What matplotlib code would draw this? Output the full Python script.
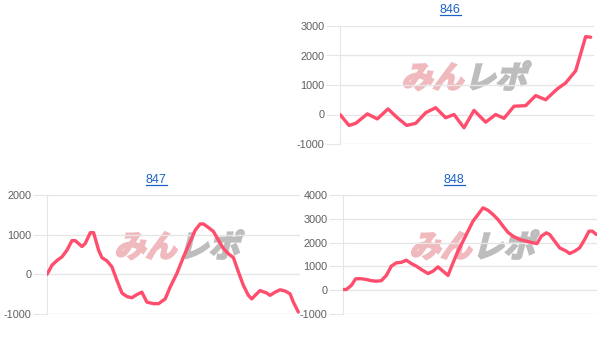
import matplotlib
matplotlib.use("Agg")
import matplotlib.pyplot as plt
from matplotlib.lines import Line2D
from matplotlib.patches import PathPatch
from matplotlib.textpath import TextPath
from matplotlib.font_manager import FontProperties
from matplotlib.transforms import Affine2D, IdentityTransform

plt.rcParams['font.family'] = ['Liberation Sans', 'DejaVu Sans']

# data (x = progress along the day, y = medals)
x846 = [118, 145, 165, 200, 230, 262, 290, 318, 345, 375, 405, 435, 460, 490,
        520, 555, 585, 610, 640, 675, 705, 735, 770, 795, 825, 855, 870]
y846 = [0, -370, -300, 20, -150, 190, -110, -370, -300, 60, 230, -110, 0, -450,
        140, -260, 0, -130, 280, 300, 640, 500, 870, 1070, 1480, 2640, 2620]

x847 = [140, 155, 170, 185, 200, 215, 225, 245, 255, 270, 280, 295, 305, 320,
        335, 350, 365, 380, 395, 410, 425, 440, 460, 475, 495, 510, 530, 550,
        570, 585, 600, 610, 625, 640, 655, 670, 685, 700, 715, 730, 745, 755,
        770, 780, 800, 810, 825, 840, 855, 870, 880, 895]
y847 = [0, 230, 350, 440, 610, 850, 850, 700, 780, 1050, 1050, 610, 420, 340,
        190, -150, -470, -560, -590, -510, -450, -700, -740, -740, -620, -320,
        20, 440, 820, 1110, 1270, 1270, 1180, 1080, 860, 650, 520, 420, 60,
        -280, -530, -620, -490, -410, -470, -530, -450, -390, -420, -490, -700, -950]

x848 = [130, 140, 155, 168, 185, 200, 215, 230, 245, 260, 275, 290, 305, 320,
        335, 350, 365, 385, 400, 415, 430, 445, 460, 475, 490, 505, 520, 535,
        550, 565, 580, 595, 610, 625, 640, 660, 680, 700, 712, 725, 740, 750,
        765, 780, 800, 810, 825, 840, 855, 868, 878, 890]
y848 = [30, 30, 200, 480, 480, 450, 400, 380, 400, 620, 1010, 1150, 1170, 1260,
        1120, 1010, 870, 700, 800, 980, 800, 620, 1150, 1640, 2060, 2480, 2900,
        3180, 3460, 3360, 3180, 2970, 2690, 2430, 2270, 2130, 2060, 1990, 1960,
        2270, 2410, 2340, 2060, 1780, 1640, 1540, 1640, 1780, 2130, 2480, 2480, 2340]

titles = ['846', '847', '848']
yticks = [[-1000, 0, 1000, 2000, 3000],
          [-1000, 0, 1000, 2000],
          [-1000, 0, 1000, 2000, 3000, 4000]]
xlims = [(118, 880), (140, 900), (130, 892)]

W, H = 604, 344
fig = plt.figure(figsize=(W / 100, H / 100), dpi=100)
fig.patch.set_facecolor('white')

# axes boxes in pixels: left, right, top, bottom ; title centre x, title y ; watermark centre
boxes = [(340, 594, 26, 144, 450, 10, 460, 77),
         (47, 300, 195, 314, 156, 180, 173, 246),
         (343, 597, 195, 314, 454, 180, 468, 246)]
series = [(x846, y846), (x847, y847), (x848, y848)]

grid_c = '#e6e6e6'
line_c = '#ff4d6d'
blue = '#1a62c6'


def watermark(cx, cy):
    prop = FontProperties(family='Noto Sans CJK JP', weight='bold')
    size = 31
    p1 = TextPath((0, 0), 'みん', size=size, prop=prop)
    p2 = TextPath((0, 0), 'レポ', size=size, prop=prop)
    w1 = p1.get_extents().width
    w2 = p2.get_extents().width
    gap = 4
    total = w1 + w2 + gap
    x0 = cx - total / 2
    y0 = H - cy - 11
    for path, dx, col in [(p1, 0, '#f0b9be'), (p2, w1 + gap, '#bdbdbd')]:
        tr = Affine2D().skew_deg(14, 0).translate(x0 + dx, y0) + IdentityTransform()
        fig.patches.append(PathPatch(path, transform=tr, facecolor=col,
                                     edgecolor=col, lw=1.6, zorder=1))


for (l, r, t, b, tx, ty, wx, wy), (xs, ys), title, yt, xl in zip(
        boxes, series, titles, yticks, xlims):
    ax = fig.add_axes([l / W, (H - b) / H, (r - l) / W, (b - t) / H])
    ax.set_facecolor('none')
    ax.set_zorder(2)
    ax.plot(xs, ys, color=line_c, lw=2.4, solid_joinstyle='round',
            solid_capstyle='round', zorder=3)
    ax.set_ylim(yt[0], yt[-1])
    ax.set_xlim(*xl)
    ax.set_yticks(yt)
    ax.set_yticklabels([str(v) for v in yt])
    ax.set_xticks([])
    ax.grid(axis='y', color=grid_c, lw=1)
    for s in ['top', 'right', 'bottom']:
        ax.spines[s].set_visible(False)
    ax.spines['left'].set_color(grid_c)
    ax.tick_params(axis='y', length=10, color=grid_c, pad=1,
                   labelsize=7.8, labelcolor='#5f5f5f')
    # title with underline
    fig.text(tx / W, (H - ty) / H, title, ha='center', va='center',
             fontsize=9, color=blue)
    fig.add_artist(Line2D([(tx - 10.5) / W, (tx + 10.5) / W],
                          [(H - ty - 5) / H, (H - ty - 5) / H],
                          color=blue, lw=0.9))
    watermark(wx, wy)

fig.savefig('out.png', dpi=100, facecolor='white')
